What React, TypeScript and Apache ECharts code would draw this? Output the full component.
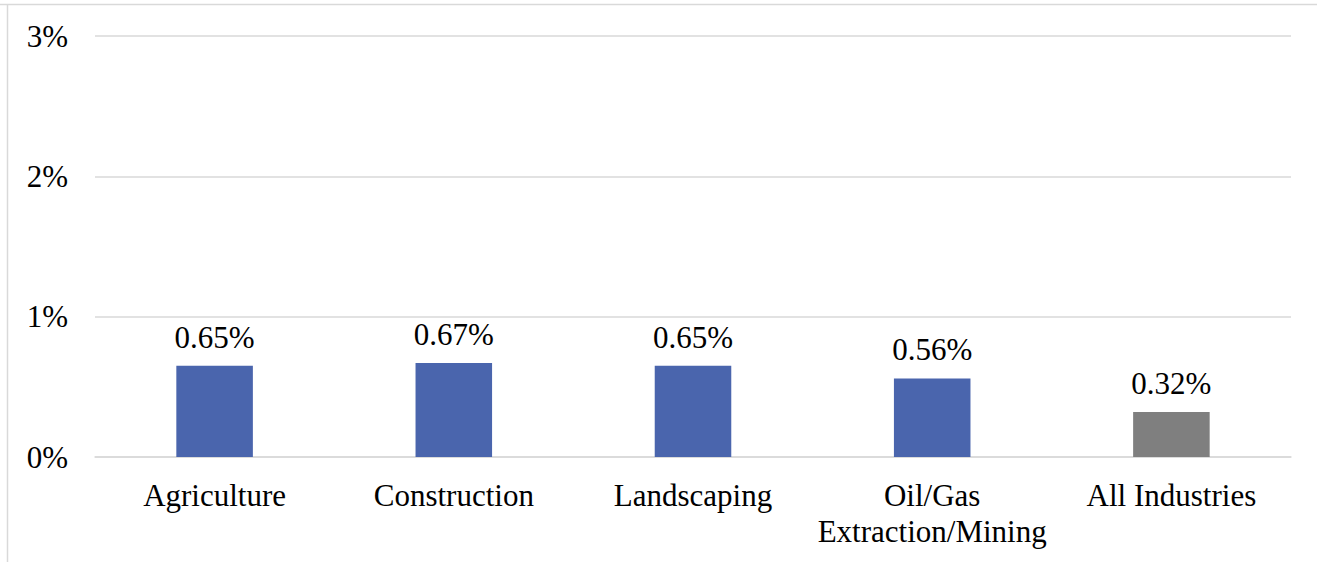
import React, { useEffect, useRef } from "react";
import * as echarts from "echarts";

const categories = ["Agriculture", "Construction", "Landscaping", "Oil/Gas\nExtraction/Mining", "All Industries"];
const values = [0.65, 0.67, 0.65, 0.56, 0.32];
const barColors = ["#4a65ad", "#4a65ad", "#4a65ad", "#4a65ad", "#7f7f7f"];
const yTicks = [0, 1, 2, 3];

export default function App() {
  const ref = useRef<HTMLDivElement>(null);
  useEffect(() => {
    const chart = echarts.init(ref.current!, null, { renderer: "svg" });
    const font = "Liberation Serif";
    chart.setOption({
      animation: false,
      backgroundColor: "#ffffff",
      textStyle: { fontFamily: font },
      grid: { left: 95, right: 26, top: 36, bottom: 105, containLabel: false },
      xAxis: {
        type: "category",
        data: categories,
        axisLine: { show: true, lineStyle: { color: "#d9d9d9", width: 1.5 } },
        axisTick: { show: false },
        axisLabel: { color: "#000", fontSize: 31, fontFamily: font, margin: 20, lineHeight: 36, interval: 0 },
      },
      yAxis: {
        type: "value",
        min: 0,
        max: 3,
        interval: 1,
        axisLine: { show: false },
        axisTick: { show: false },
        splitLine: { lineStyle: { color: "#d9d9d9", width: 1.5 } },
        axisLabel: {
          color: "#000",
          fontSize: 31,
          fontFamily: font,
          margin: 27,
          formatter: (v: number) => (yTicks.includes(v) ? v + "%" : ""),
        },
      },
      series: [
        {
          type: "bar",
          barWidth: "32%",
          data: values.map((v, i) => ({ value: v, itemStyle: { color: barColors[i] } })),
          label: {
            show: true,
            position: "top",
            distance: 13,
            color: "#000",
            fontSize: 31,
            fontFamily: font,
            formatter: (p: any) => p.value.toFixed(2) + "%",
          },
        },
      ],
      graphic: [
        { type: "line", shape: { x1: 0, y1: 4.5, x2: 1317, y2: 4.5 }, style: { stroke: "#d9d9d9", lineWidth: 1.5 } },
        { type: "line", shape: { x1: 7.5, y1: 4, x2: 7.5, y2: 562 }, style: { stroke: "#d9d9d9", lineWidth: 1.5 } },
      ],
    });
    return () => chart.dispose();
  }, []);
  return <div ref={ref} style={{ position: "fixed", left: 0, top: 0, width: 1317, height: 562 }} />;
}
